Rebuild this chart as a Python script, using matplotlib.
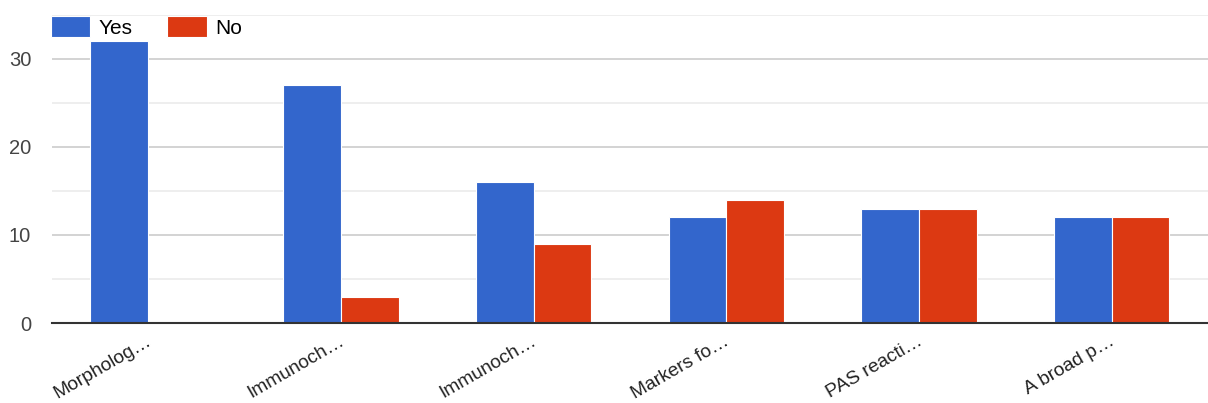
import matplotlib.pyplot as plt
import matplotlib.transforms as mtransforms
import numpy as np

categories = ["Morpholog…", "Immunoch…", "Immunoch…", "Markers fo…", "PAS reacti…", "A broad p…"]
yes = [32, 27, 16, 12, 13, 12]
no = [0, 3, 9, 14, 13, 12]

plt.rcParams['font.family'] = ['Liberation Sans', 'DejaVu Sans']

fig = plt.figure(figsize=(12.08, 4.03), dpi=100)
ax = fig.add_axes([0.043, 0.1985, 0.957, 0.7645])

x = np.arange(len(categories))
w = 0.3
ax.bar(x - w / 2, yes, w, color='#3366cc', edgecolor='white', linewidth=0.8, label='Yes', zorder=3)
ax.bar(x + w / 2, no, w, color='#dc3912', edgecolor='white', linewidth=0.8, label='No', zorder=3)

ax.set_xlim(-0.5, len(categories) - 0.5)
ax.set_ylim(0, 35)
ax.set_yticks([0, 10, 20, 30])
ax.set_yticks([5, 15, 25, 35], minor=True)
ax.grid(axis='y', which='major', color='#cccccc', linewidth=1.2, zorder=0)
ax.grid(axis='y', which='minor', color='#ebebeb', linewidth=1.2, zorder=0)
ax.tick_params(axis='y', which='both', length=0, labelsize=14.5, labelcolor='#444444', pad=15)
ax.tick_params(axis='x', length=0, labelsize=13.8, labelcolor='#222222', pad=15)
ax.set_xticks(x)
ax.set_xticklabels(categories, rotation=30, ha='right', va='baseline', rotation_mode='anchor')
shift = mtransforms.ScaledTranslation(4 / 100, 0, fig.dpi_scale_trans)
for lbl in ax.get_xticklabels():
    lbl.set_transform(lbl.get_transform() + shift)

for s in ['top', 'right', 'left']:
    ax.spines[s].set_visible(False)
ax.spines['bottom'].set_color('#333333')
ax.spines['bottom'].set_linewidth(1.5)
ax.spines['bottom'].set_zorder(4)

ax.legend(loc='upper left', bbox_to_anchor=(-0.001, 0.995), ncol=2, frameon=False,
          fontsize=15, handlelength=1.9, handleheight=1.15, columnspacing=1.65,
          handletextpad=0.4, borderaxespad=0.0, borderpad=0.0)

fig.savefig('out.png', dpi=100)
